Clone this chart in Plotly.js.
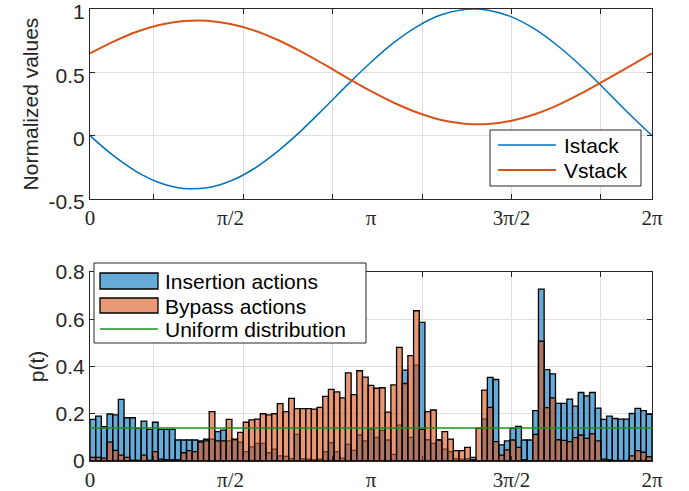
<!DOCTYPE html>
<html><head><meta charset="utf-8">
<script src="https://cdn.plot.ly/plotly-3.0.1.min.js"></script>
<style>html,body{margin:0;padding:0;background:#fff}#chart{width:689px;height:491px}</style>
</head><body><div id="chart"></div>
<script>
// ---- data ----
const phaseTickVals = [0, Math.PI/2, Math.PI, 3*Math.PI/2, 2*Math.PI];
const phaseTickText = ['0', 'π/2', 'π', '3π/2', '2π'];
const gridTickVals = [0.712, 1.712, 2.712, 3.712, 4.712, 5.712];

// sampled every pi/12 from 0 to 2pi
const istack = [0.000,-0.158,-0.285,-0.373,-0.416,-0.411,-0.358,-0.261,-0.126,0.036,0.217,0.403,0.580,
                0.738,0.865,0.954,0.996,0.991,0.938,0.841,0.706,0.544,0.363,0.177,0.000];
const vstack = [0.649,0.742,0.820,0.875,0.905,0.908,0.882,0.831,0.757,0.665,0.562,0.455,0.351,
                0.258,0.181,0.124,0.095,0.092,0.118,0.169,0.243,0.335,0.438,0.544,0.649];

// histogram (pdf), 99 bins over [0, 2pi]
const insertion = [0.176,0.190,0.145,0.199,0.195,0.261,0.183,0.183,0.138,0.169,
                   0.134,0.164,0.134,0.134,0.134,0.089,0.089,0.089,0.089,0.085,
                   0.092,0.092,0.124,0.131,0.085,0.088,0.080,0.040,0.060,0.075,
                   0.075,0.035,0.050,0.022,0.020,0.010,0.113,0.010,0.008,0.005,
                   0.008,0.040,0.078,0.040,0.012,0.070,0.045,0.110,0.085,0.135,
                   0.100,0.130,0.089,0.028,0.152,0.385,0.100,0.406,0.587,0.090,
                   0.075,0.090,0.050,0.040,0.010,0.008,0.010,0.015,0.000,0.177,
                   0.354,0.345,0.068,0.085,0.138,0.147,0.089,0.089,0.213,0.728,
                   0.387,0.369,0.244,0.244,0.262,0.232,0.290,0.276,0.290,0.224,
                   0.176,0.190,0.180,0.177,0.177,0.201,0.223,0.213,0.197];
const bypass = [0.015,0.015,0.012,0.080,0.045,0.025,0.015,0.003,0.003,0.025,
                0.003,0.040,0.008,0.005,0.005,0.005,0.035,0.044,0.040,0.080,
                0.085,0.209,0.085,0.085,0.176,0.092,0.121,0.164,0.174,0.177,
                0.200,0.195,0.200,0.243,0.209,0.265,0.222,0.222,0.222,0.220,
                0.227,0.274,0.303,0.293,0.267,0.373,0.281,0.382,0.355,0.320,
                0.308,0.310,0.207,0.322,0.481,0.328,0.446,0.636,0.134,0.209,
                0.216,0.088,0.124,0.093,0.044,0.044,0.058,0.005,0.138,0.300,
                0.227,0.082,0.025,0.047,0.089,0.058,0.005,0.000,0.113,0.507,
                0.226,0.267,0.090,0.087,0.082,0.099,0.110,0.096,0.115,0.085,
                0.008,0.005,0.002,0.002,0.002,0.022,0.044,0.037,0.018];
const uniformLevel = 0.14;
const seriesNames = ['Istack', 'Vstack', 'Insertion actions', 'Bypass actions', 'Uniform distribution'];

// ---- derived ----
const TWO_PI = 2*Math.PI;
const theta = istack.map((_, k) => k*TWO_PI/(istack.length-1));
const binW = TWO_PI/insertion.length;
const binCenters = insertion.map((_, i) => (i+0.5)*binW);

const AX = '#262626', GRID = '#dedede';
const SANS = 'Liberation Sans, Arial, sans-serif';
const SERIF = 'Liberation Serif, Times New Roman, serif';
const C_I = '#0072BD', C_V = '#D95319';
const C_INS = 'rgba(0,114,189,0.6)', C_BYP = 'rgba(217,83,25,0.6)', C_UNI = '#1a921a';

const traces = [
  {x: theta, y: istack, name: seriesNames[0], type: 'scatter', mode: 'lines',
   line: {color: C_I, width: 1.5, shape: 'spline'}, xaxis: 'x', yaxis: 'y', showlegend: false},
  {x: theta, y: vstack, name: seriesNames[1], type: 'scatter', mode: 'lines',
   line: {color: C_V, width: 2, shape: 'spline'}, xaxis: 'x', yaxis: 'y', showlegend: false},
  {x: binCenters, y: insertion, name: seriesNames[2], type: 'bar', width: binW,
   marker: {color: C_INS, line: {color: '#000', width: 1.3}},
   xaxis: 'x2', yaxis: 'y2', showlegend: false},
  {x: binCenters, y: bypass, name: seriesNames[3], type: 'bar', width: binW,
   marker: {color: C_BYP, line: {color: '#000', width: 1.3}},
   xaxis: 'x2', yaxis: 'y2', showlegend: false},
  {x: [0, TWO_PI], y: [uniformLevel, uniformLevel], name: seriesNames[4], type: 'scatter', mode: 'lines',
   line: {color: C_UNI, width: 1.5}, xaxis: 'x2', yaxis: 'y2', showlegend: false}
];

function xAxis(anchor) {
  return {anchor: anchor, domain: [0, 1], range: [0, TWO_PI], tickmode: 'array',
    tickvals: phaseTickVals, ticktext: phaseTickText, ticks: '', showgrid: false, zeroline: false,
    showline: true, linecolor: AX, linewidth: 1, mirror: 'ticks', ticklabeloverflow: 'allow',
    tickfont: {family: SERIF, size: 21, color: AX},
    minor: {tickmode: 'array', tickvals: gridTickVals, ticks: 'inside', ticklen: 5, tickcolor: AX,
            showgrid: true, gridcolor: GRID, gridwidth: 1}};
}
function yAxis(anchor, domain, range, vals, text, title, standoff, shift) {
  return {anchor: anchor, domain: domain, range: range, tickmode: 'array', tickvals: vals, ticktext: text,
    ticks: 'inside', ticklen: 5, tickcolor: AX, showgrid: true, gridcolor: GRID, gridwidth: 1,
    zeroline: false, showline: true, linecolor: AX, linewidth: 1, mirror: 'ticks', ticklabeloverflow: 'allow',
    ticklabelshift: shift,
    tickfont: {family: SANS, size: 21, color: AX},
    title: {text: title, font: {family: SANS, size: 21, color: AX}, standoff: standoff}};
}

// paper coordinate helpers for the legends (plot area: x 90..652, y 9..461 px)
const px = v => (v-90)/562, py = v => (461-v)/452;
const txt = (s, x, y) => ({text: s, xref: 'paper', yref: 'paper', x: px(x), y: py(y), xanchor: 'left',
  yanchor: 'middle', showarrow: false, font: {family: SANS, size: 21, color: '#000'}});
const rect = (x0, x1, y0, y1, fill, lw) => ({type: 'rect', xref: 'paper', yref: 'paper',
  x0: px(x0), x1: px(x1), y0: py(y0), y1: py(y1), fillcolor: fill, line: {color: lw ? '#000' : AX, width: lw || 1}});
const hline = (x0, x1, y, color, w) => ({type: 'line', xref: 'paper', yref: 'paper',
  x0: px(x0), x1: px(x1), y0: py(y), y1: py(y), line: {color: color, width: w}});

const layout = {
  width: 689, height: 491, margin: {l: 90, r: 37, t: 9, b: 30},
  paper_bgcolor: '#fff', plot_bgcolor: '#fff', barmode: 'overlay', bargap: 0, showlegend: false,
  xaxis: xAxis('y'),
  yaxis: yAxis('x', [0.5796, 1], [-0.5, 1], [-0.5, 0, 0.5, 1], ['-0.5', '0', '0.5', '1'], 'Normalized values', 4, 3),
  xaxis2: xAxis('y2'),
  yaxis2: yAxis('x2', [0, 0.4181], [0, 0.8], [0, 0.2, 0.4, 0.6, 0.8], ['0', '0.2', '0.4', '0.6', '0.8'], 'p(t)', 5, 0),
  shapes: [
    // top legend
    rect(490, 641, 130, 186, '#fff'),
    hline(498, 556, 145, C_I, 1.5),
    hline(498, 556, 170, C_V, 2),
    // bottom legend
    rect(94, 366, 263, 343, '#fff'),
    rect(100, 158, 273, 289, C_INS, 1.3),
    rect(100, 158, 298, 313, C_BYP, 1.3),
    hline(100, 158, 329, C_UNI, 1.5)
  ],
  annotations: [
    txt(seriesNames[0], 562, 145),
    txt(seriesNames[1], 562, 170),
    txt(seriesNames[2], 163, 281),
    txt(seriesNames[3], 163, 306),
    txt(seriesNames[4], 163, 329)
  ]
};

Plotly.newPlot('chart', traces, layout, {displayModeBar: false, staticPlot: true});
</script></body></html>
